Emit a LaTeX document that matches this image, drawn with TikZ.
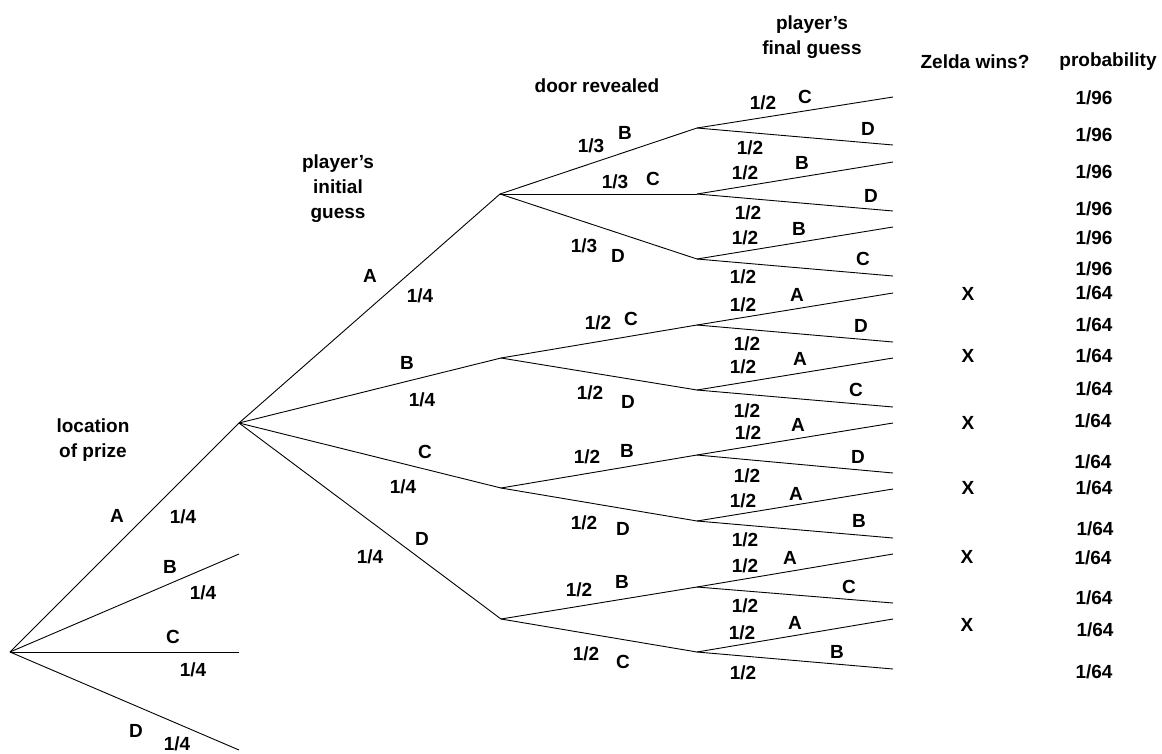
\documentclass[tikz,border=0pt]{standalone}
\usepackage{fontspec}
\setmainfont{Liberation Sans}
\newfontfamily\lblfont{Liberation Sans Bold}
\usepackage{tikz}

\tikzset{
  lbl/.style={font=\lblfont\fontsize{19}{25}\selectfont, inner sep=0pt, align=center},
  branch/.style={black, line width=0.9pt}
}

\begin{document}
\begin{tikzpicture}[x=1pt, y=-1pt]
                \useasboundingbox (0,0) rectangle (1162,753);
                % tree points
                \coordinate (root) at (10,652);
                \coordinate (pA) at (239,423);
                \coordinate (pB) at (239,554);
                \coordinate (pC) at (239,652);
                \coordinate (pD) at (239,750);
                \coordinate (gA) at (500,194);
                \coordinate (gB) at (501,358);
                \coordinate (gC) at (501,488);
                \coordinate (gD) at (501,619);
                \coordinate (dAB) at (697,128);
                \coordinate (dAC) at (697,194);
                \coordinate (dAD) at (697,259);
                \coordinate (dBC) at (697,325);
                \coordinate (dBD) at (697,390);
                \coordinate (dCB) at (697,455);
                \coordinate (dCD) at (697,521);
                \coordinate (dDB) at (697,587);
                \coordinate (dDC) at (697,652);
                \coordinate (f1) at (893,97);   \coordinate (f2) at (893,145);
                \coordinate (f3) at (893,162);  \coordinate (f4) at (893,211);
                \coordinate (f5) at (893,227);  \coordinate (f6) at (893,276);
                \coordinate (f7) at (893,293);  \coordinate (f8) at (893,342);
                \coordinate (f9) at (893,358);  \coordinate (f10) at (893,407);
                \coordinate (f11) at (893,423); \coordinate (f12) at (893,473);
                \coordinate (f13) at (893,489); \coordinate (f14) at (893,538);
                \coordinate (f15) at (893,554); \coordinate (f16) at (893,603);
                \coordinate (f17) at (893,619); \coordinate (f18) at (893,669);

                % branches
                \draw[branch] (root) -- (pA);
                \draw[branch] (root) -- (pB);
                \draw[branch] (root) -- (pC);
                \draw[branch] (root) -- (pD);
                \draw[branch] (pA) -- (gA);
                \draw[branch] (pA) -- (gB);
                \draw[branch] (pA) -- (gC);
                \draw[branch] (pA) -- (gD);
                \draw[branch] (gA) -- (dAB);
                \draw[branch] (gA) -- (dAC);
                \draw[branch] (gA) -- (dAD);
                \draw[branch] (gB) -- (dBC);
                \draw[branch] (gB) -- (dBD);
                \draw[branch] (gC) -- (dCB);
                \draw[branch] (gC) -- (dCD);
                \draw[branch] (gD) -- (dDB);
                \draw[branch] (gD) -- (dDC);
                \draw[branch] (dAB) -- (f1);  \draw[branch] (dAB) -- (f2);
                \draw[branch] (dAC) -- (f3);  \draw[branch] (dAC) -- (f4);
                \draw[branch] (dAD) -- (f5);  \draw[branch] (dAD) -- (f6);
                \draw[branch] (dBC) -- (f7);  \draw[branch] (dBC) -- (f8);
                \draw[branch] (dBD) -- (f9);  \draw[branch] (dBD) -- (f10);
                \draw[branch] (dCB) -- (f11); \draw[branch] (dCB) -- (f12);
                \draw[branch] (dCD) -- (f13); \draw[branch] (dCD) -- (f14);
                \draw[branch] (dDB) -- (f15); \draw[branch] (dDB) -- (f16);
                \draw[branch] (dDC) -- (f17); \draw[branch] (dDC) -- (f18);

                % column headings
                \node[lbl] (hPrize) at (93,440) {location\\of prize};
                \node[lbl] (hInit) at (338,189) {player’s\\initial\\guess};
                \node[lbl] (hDoor) at (597,86) {door revealed};
                \node[lbl] (hFinal) at (812,37) {player’s\\final guess};
                \node[lbl] (hWins) at (975,62) {Zelda wins?};
                \node[lbl] (hProb) at (1108,62) {probability};

                % location of prize
                \node[lbl] (lA) at (117,516) {A};  \node[lbl] (qA) at (183,517) {1/4};
                \node[lbl] (lB) at (170,567) {B};  \node[lbl] (qB) at (203,593) {1/4};
                \node[lbl] (lC) at (173,637) {C};  \node[lbl] (qC) at (193,670) {1/4};
                \node[lbl] (lD) at (136,731) {D};  \node[lbl] (qD) at (177,744) {1/4};

                % initial guess
                \node[lbl] (iA) at (370,276) {A};  \node[lbl] (rA) at (420,296) {1/4};
                \node[lbl] (iB) at (407,363) {B};  \node[lbl] (rB) at (422,400) {1/4};
                \node[lbl] (iC) at (425,452) {C};  \node[lbl] (rC) at (403,487) {1/4};
                \node[lbl] (iD) at (422,539) {D};  \node[lbl] (rD) at (370,557) {1/4};

                % door revealed
                \node[lbl] (sAB) at (591,146) {1/3}; \node[lbl] (eAB) at (625,133) {B};
                \node[lbl] (sAC) at (615,182) {1/3}; \node[lbl] (eAC) at (653,179) {C};
                \node[lbl] (sAD) at (584,246) {1/3}; \node[lbl] (eAD) at (618,256) {D};
                \node[lbl] (sBC) at (598,323) {1/2}; \node[lbl] (eBC) at (631,319) {C};
                \node[lbl] (sBD) at (590,393) {1/2}; \node[lbl] (eBD) at (628,402) {D};
                \node[lbl] (sCB) at (587,457) {1/2}; \node[lbl] (eCB) at (627,451) {B};
                \node[lbl] (sCD) at (584,523) {1/2}; \node[lbl] (eCD) at (623,529) {D};
                \node[lbl] (sDB) at (579,590) {1/2}; \node[lbl] (eDB) at (622,582) {B};
                \node[lbl] (sDC) at (586,654) {1/2}; \node[lbl] (eDC) at (623,662) {C};

                % final guess
                \node[lbl] (t1) at (763,103) {1/2};  \node[lbl] (c1) at (805,97) {C};
                \node[lbl] (t2) at (750,148) {1/2};  \node[lbl] (c2) at (868,129) {D};
                \node[lbl] (t3) at (745,173) {1/2};  \node[lbl] (c3) at (802,163) {B};
                \node[lbl] (t4) at (748,213) {1/2};  \node[lbl] (c4) at (871,196) {D};
                \node[lbl] (t5) at (745,238) {1/2};  \node[lbl] (c5) at (799,229) {B};
                \node[lbl] (t6) at (743,277) {1/2};  \node[lbl] (c6) at (863,259) {C};
                \node[lbl] (t7) at (743,305) {1/2};  \node[lbl] (c7) at (797,295) {A};
                \node[lbl] (t8) at (747,344) {1/2};  \node[lbl] (c8) at (861,326) {D};
                \node[lbl] (t9) at (743,367) {1/2};  \node[lbl] (c9) at (800,359) {A};
                \node[lbl] (t10) at (747,411) {1/2}; \node[lbl] (c10) at (856,390) {C};
                \node[lbl] (t11) at (748,433) {1/2}; \node[lbl] (c11) at (798,425) {A};
                \node[lbl] (t12) at (747,476) {1/2}; \node[lbl] (c12) at (858,457) {D};
                \node[lbl] (t13) at (743,501) {1/2}; \node[lbl] (c13) at (796,494) {A};
                \node[lbl] (t14) at (745,540) {1/2}; \node[lbl] (c14) at (859,521) {B};
                \node[lbl] (t15) at (745,566) {1/2}; \node[lbl] (c15) at (790,558) {A};
                \node[lbl] (t16) at (745,606) {1/2}; \node[lbl] (c16) at (849,587) {C};
                \node[lbl] (t17) at (742,633) {1/2}; \node[lbl] (c17) at (795,623) {A};
                \node[lbl] (t18) at (743,673) {1/2}; \node[lbl] (c18) at (837,652) {B};

                % Zelda wins
                \node[lbl] (w7) at (968,294) {X};
                \node[lbl] (w9) at (968,356) {X};
                \node[lbl] (w11) at (968,423) {X};
                \node[lbl] (w13) at (968,488) {X};
                \node[lbl] (w15) at (967,557) {X};
                \node[lbl] (w17) at (967,625) {X};

                % probability
                \node[lbl] (pr1) at (1094,98) {1/96};
                \node[lbl] (pr2) at (1094,135) {1/96};
                \node[lbl] (pr3) at (1094,172) {1/96};
                \node[lbl] (pr4) at (1094,209) {1/96};
                \node[lbl] (pr5) at (1094,238) {1/96};
                \node[lbl] (pr6) at (1094,269) {1/96};
                \node[lbl] (pr7) at (1094,293) {1/64};
                \node[lbl] (pr8) at (1094,325) {1/64};
                \node[lbl] (pr9) at (1094,356) {1/64};
                \node[lbl] (pr10) at (1094,389) {1/64};
                \node[lbl] (pr11) at (1093,421) {1/64};
                \node[lbl] (pr12) at (1093,462) {1/64};
                \node[lbl] (pr13) at (1094,488) {1/64};
                \node[lbl] (pr14) at (1095,529) {1/64};
                \node[lbl] (pr15) at (1093,558) {1/64};
                \node[lbl] (pr16) at (1094,598) {1/64};
                \node[lbl] (pr17) at (1095,630) {1/64};
                \node[lbl] (pr18) at (1094,672) {1/64};
            \end{tikzpicture}
\end{document}
